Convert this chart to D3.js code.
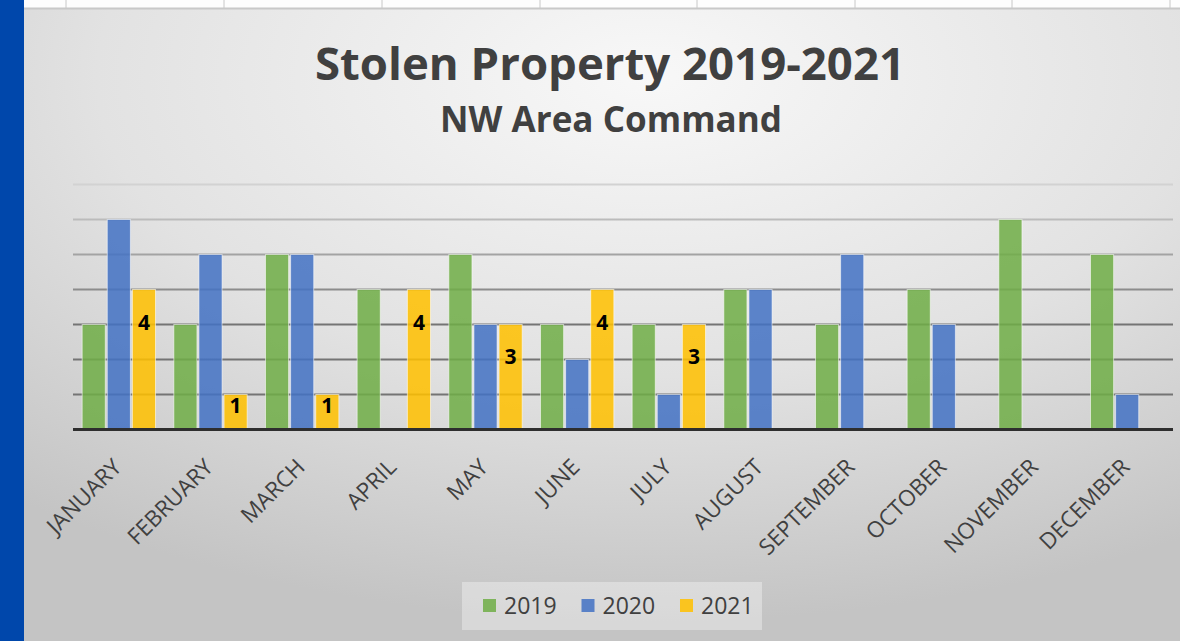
<!DOCTYPE html>
<html>
<head>
<meta charset="utf-8">
<script src="https://cdn.jsdelivr.net/npm/d3@7"></script>
<style>
  body { margin: 0; background: #fff; }
  svg { display: block; font-family: "Open Sans", "Noto Sans", sans-serif; }
</style>
</head>
<body>
<div id="chart"></div>
<script>
// Data
const months = ["JANUARY", "FEBRUARY", "MARCH", "APRIL", "MAY", "JUNE",
                "JULY", "AUGUST", "SEPTEMBER", "OCTOBER", "NOVEMBER", "DECEMBER"];
const series = ["2019", "2020", "2021"];
const values2019 = [3, 3, 5, 4, 5, 3, 3, 4, 3, 4, 6, 5];
const values2020 = [6, 5, 5, 0, 3, 2, 1, 4, 5, 3, 0, 1];
const values2021 = [4, 1, 1, 4, 3, 4, 3, 0, 0, 0, 0, 0];
const gridTicks = [1, 2, 3, 4, 5, 6, 7];

const W = 1180, H = 641;
const margin = {top: 184.5, right: 7, bottom: 211.5, left: 73},
      width = W - margin.left - margin.right,
      height = H - margin.top - margin.bottom;

const svg = d3.select("#chart").append("svg")
    .attr("width", W)
    .attr("height", H);

// background gradient
const defs = svg.append("defs");
const bg = defs.append("radialGradient")
    .attr("id", "bg")
    .attr("cx", "55%").attr("cy", "12%").attr("r", "85%")
    .attr("gradientUnits", "objectBoundingBox");
bg.append("stop").attr("offset", "0%").attr("stop-color", "#f8f8f8");
bg.append("stop").attr("offset", "55%").attr("stop-color", "#e2e2e2");
bg.append("stop").attr("offset", "100%").attr("stop-color", "#c4c4c4");

svg.append("rect").attr("x", 0).attr("y", 0).attr("width", W).attr("height", H)
    .attr("fill", "url(#bg)");

// spreadsheet strip on top + blue side bar
svg.append("rect").attr("x", 0).attr("y", 0).attr("width", W).attr("height", 8)
    .attr("fill", "#fdfdfd");
svg.append("line").attr("x1", 0).attr("x2", W).attr("y1", 8.5).attr("y2", 8.5)
    .attr("stroke", "#c8c8c8").attr("stroke-width", 2);
const cellEdges = [66, 224, 382, 540, 697, 855, 1012, 1170];
svg.selectAll(".cell-edge")
    .data(cellEdges)
    .enter()
    .append("line")
    .attr("class", "cell-edge")
    .attr("x1", d => d).attr("x2", d => d)
    .attr("y1", 0).attr("y2", 8)
    .attr("stroke", "#c8c8c8");
svg.append("rect").attr("x", 0).attr("y", 0).attr("width", 24).attr("height", H)
    .attr("fill", "#0047ab");

// Titles
svg.append("text")
    .attr("x", 610).attr("y", 80)
    .attr("text-anchor", "middle")
    .attr("font-size", 44).attr("font-weight", 700)
    .attr("fill", "#404040")
    .attr("textLength", 590).attr("lengthAdjust", "spacingAndGlyphs")
    .text("Stolen Property 2019-2021");
svg.append("text")
    .attr("x", 611).attr("y", 132)
    .attr("text-anchor", "middle")
    .attr("font-size", 36).attr("font-weight", 700)
    .attr("fill", "#404040")
    .attr("textLength", 342).attr("lengthAdjust", "spacingAndGlyphs")
    .text("NW Area Command");

const g = svg.append("g")
    .attr("transform", `translate(${margin.left},${margin.top})`);

const x = d3.scaleBand()
    .domain(months)
    .range([0, width])
    .paddingInner(0.2)
    .paddingOuter(0.1);

const xSub = d3.scaleBand()
    .domain(series)
    .range([0, x.bandwidth()])
    .paddingInner(0.08);

const y = d3.scaleLinear()
    .domain([0, 7])
    .range([height, 0]);

const color = d3.scaleOrdinal()
    .domain(series)
    .range(["#70ad47", "#4472c4", "#ffc000"]);

const gridColor = d3.scaleLinear()
    .domain([3, 7])
    .range(["#747474", "#d2d2d2"])
    .clamp(true);

// gridlines
g.selectAll(".grid")
    .data(gridTicks)
    .enter()
    .append("line")
    .attr("class", "grid")
    .attr("x1", 0).attr("x2", width)
    .attr("y1", d => y(d)).attr("y2", d => y(d))
    .attr("stroke", d => gridColor(d))
    .attr("stroke-width", 2);

const rows = months.map((m, i) => ({
    month: m,
    vals: [
        {key: "2019", value: values2019[i]},
        {key: "2020", value: values2020[i]},
        {key: "2021", value: values2021[i]}
    ]
}));

const groups = g.selectAll(".month")
    .data(rows)
    .enter()
    .append("g")
    .attr("class", "month")
    .attr("transform", d => `translate(${x(d.month)},0)`);

groups.selectAll("rect")
    .data(d => d.vals.filter(v => v.value > 0))
    .enter()
    .append("rect")
    .attr("x", d => xSub(d.key))
    .attr("y", d => y(d.value))
    .attr("width", xSub.bandwidth())
    .attr("height", d => y(0) - y(d.value))
    .attr("fill", d => color(d.key))
    .attr("fill-opacity", 0.86)
    .attr("stroke", "#ffffff")
    .attr("stroke-opacity", 0.55)
    .attr("stroke-width", 1);

// value labels only on the 2021 bars
groups.selectAll(".lbl")
    .data(d => d.vals.filter(v => v.key === "2021" && v.value > 0))
    .enter()
    .append("text")
    .attr("class", "lbl")
    .attr("x", d => xSub(d.key) + xSub.bandwidth() / 2)
    .attr("y", d => y(d.value) + Math.min(33, (y(0) - y(d.value)) * 0.3))
    .attr("dy", "0.36em")
    .attr("text-anchor", "middle")
    .attr("font-size", 21).attr("font-weight", 700)
    .attr("fill", "#000")
    .text(d => d.value);

// baseline
g.append("line")
    .attr("x1", 0).attr("x2", width)
    .attr("y1", y(0)).attr("y2", y(0))
    .attr("stroke", "#2e2e2e")
    .attr("stroke-width", 3);

// month labels
g.selectAll(".xlabel")
    .data(months)
    .enter()
    .append("text")
    .attr("class", "xlabel")
    .attr("transform", d => `translate(${x(d) + x.bandwidth() / 2 + 4},${y(0) + 39}) rotate(-45)`)
    .attr("text-anchor", "end")
    .attr("font-size", 22.5)
    .attr("fill", "#404040")
    .text(d => d);

// legend
const legend = svg.append("g").attr("transform", "translate(462,582)");
legend.append("rect")
    .attr("width", 300).attr("height", 48)
    .attr("fill", "#ffffff").attr("fill-opacity", 0.35);
const legendX = d3.scalePoint().domain(series).range([21, 218]);
const item = legend.selectAll(".item")
    .data(series)
    .enter()
    .append("g")
    .attr("class", "item")
    .attr("transform", d => `translate(${legendX(d)},0)`);
item.append("rect")
    .attr("y", 17).attr("width", 13).attr("height", 13)
    .attr("fill", d => color(d)).attr("fill-opacity", 0.86);
item.append("text")
    .attr("x", 21).attr("y", 32)
    .attr("font-size", 23)
    .attr("fill", "#404040")
    .text(d => d);
</script>
</body>
</html>
